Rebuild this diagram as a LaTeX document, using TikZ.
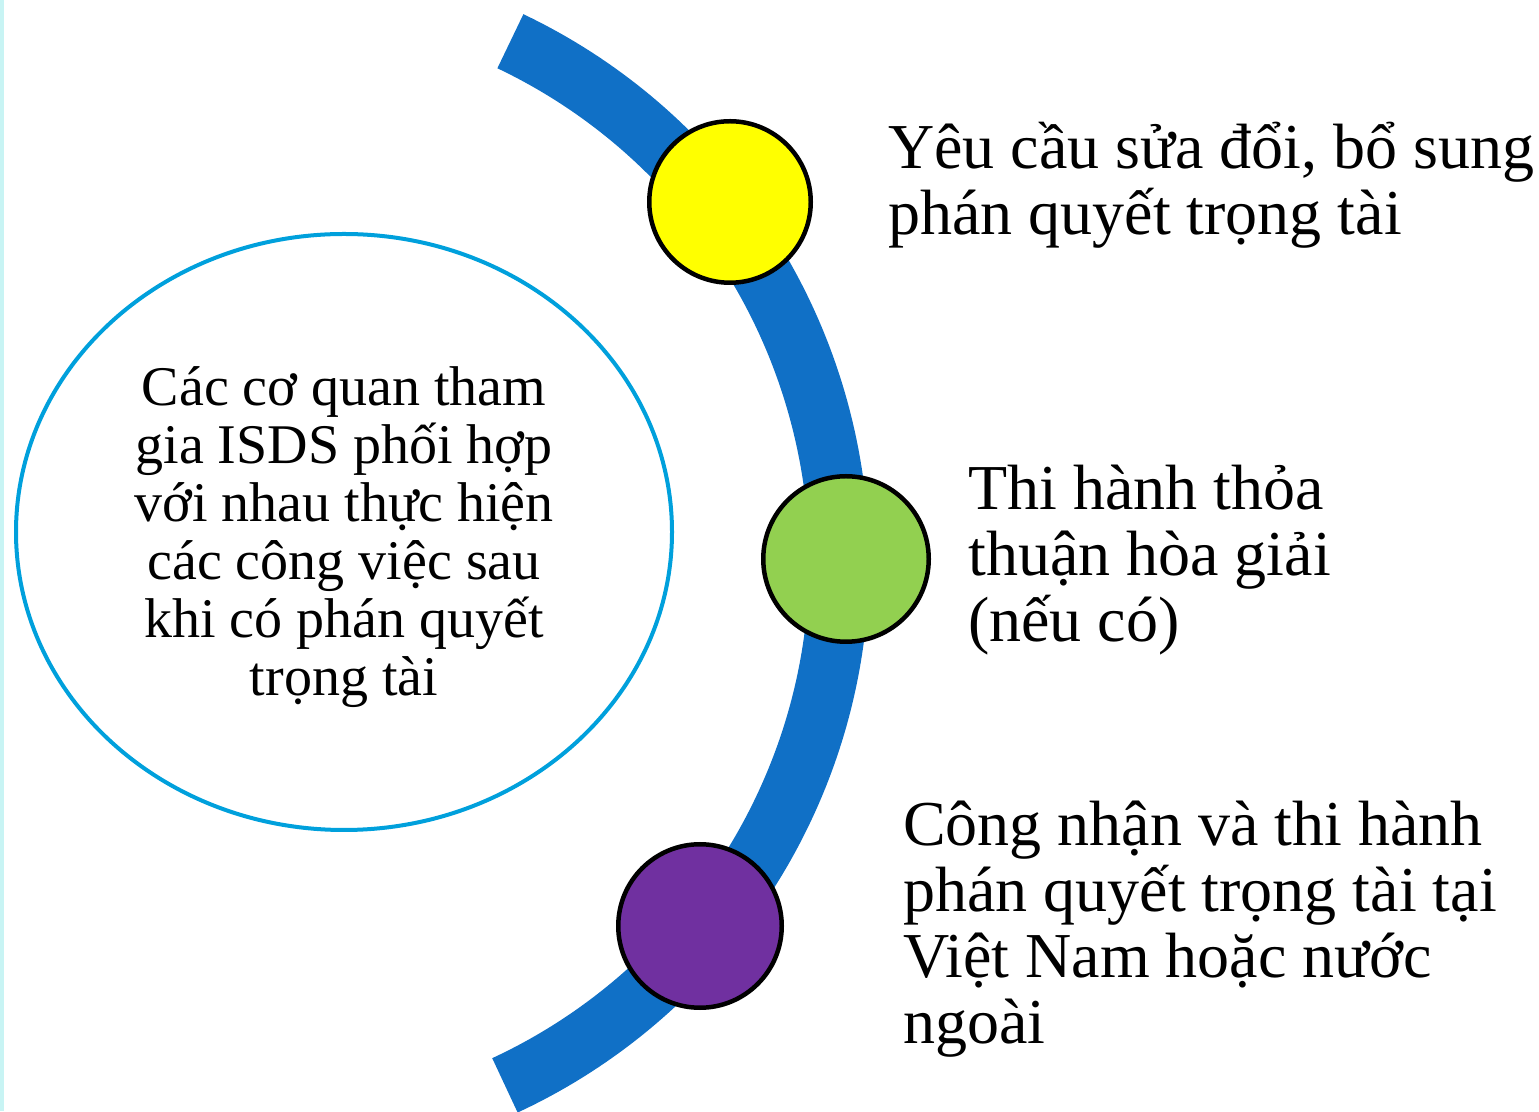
\documentclass[tikz,border=0pt]{standalone}
\usepackage{fontspec}
\setmainfont{Liberation Serif}
\usetikzlibrary{shapes.geometric}

\definecolor{bandblue}{RGB}{16,112,198}
\definecolor{ringcyan}{RGB}{0,160,220}
\definecolor{dotyellow}{RGB}{255,255,0}
\definecolor{dotgreen}{RGB}{146,208,80}
\definecolor{dotpurple}{RGB}{112,48,160}
\definecolor{edgecyan}{RGB}{200,244,244}

\tikzset{
  stepdot/.style={circle,draw=black,line width=4.5pt,inner sep=0pt},
  sidetext/.style={anchor=base west,align=left,inner sep=0pt,
    font=\fontsize{64}{66}\selectfont},
}

\begin{document}
\begin{tikzpicture}[x=1pt,y=1pt]
\useasboundingbox (0,0) rectangle (1539,1111);
\fill[edgecyan] (0,0) rectangle (4,1111);

% the blue band
\draw[bandblue,line width=60pt] (262,549) ++(64.5:577)
  arc[start angle=64.5,end angle=-65.1,radius=577];

% left ellipse
\node[ellipse,draw=ringcyan,line width=4pt,inner sep=0pt,
  minimum width=656,minimum height=596] (hub) at (344,579) {};
\node[align=center,inner sep=0pt,font=\fontsize{56}{58}\selectfont]
  (hubtext) at ([yshift=-5]hub.center)
{Các cơ quan tham\\gia ISDS phối hợp\\với nhau thực hiện\\các công việc sau\\khi có phán quyết\\trọng tài};

% dots on the band
\node[stepdot,fill=dotyellow,minimum size=161.5] (suadoi) at (730,909) {};
\node[stepdot,fill=dotgreen,minimum size=165.5] (hoagiai) at (846,552) {};
\node[stepdot,fill=dotpurple,minimum size=163.5] (congnhan) at (700,185) {};

% texts (anchored at the last line)
\node[sidetext] (suadoitext) at (888,876)
{Yêu cầu sửa đổi, bổ sung\\phán quyết trọng tài};
\node[sidetext] (hoagiaitext) at (968,469)
{Thi hành thỏa\\thuận hòa giải\\(nếu có)};
\node[sidetext] (congnhantext) at (903,67)
{Công nhận và thi hành\\phán quyết trọng tài tại\\Việt Nam hoặc nước\\ngoài};

\end{tikzpicture}
\end{document}
